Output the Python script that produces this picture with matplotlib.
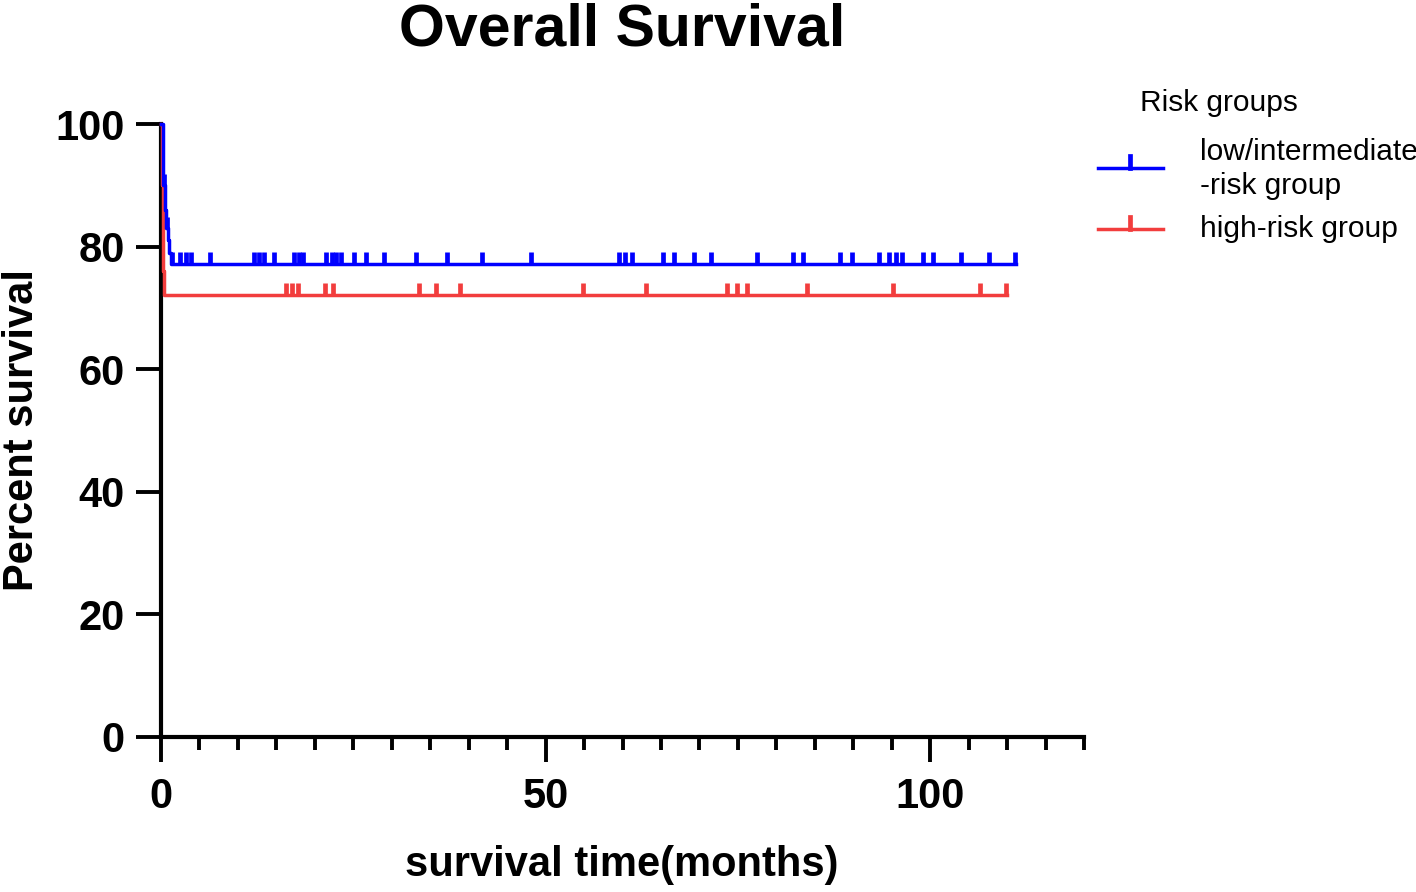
import numpy as np
import matplotlib
matplotlib.use("Agg")
import matplotlib.pyplot as plt
from matplotlib.lines import Line2D
from matplotlib.ticker import FixedLocator

plt.rcParams['font.family'] = ['Liberation Sans', 'DejaVu Sans']

# ---- data ----
group_names = ["low/intermediate\n-risk group", "high-risk group"]
group_colors = ["#0000FF", "#F23D3D"]

blue_step_times = [0, 0.3, 0.5, 0.7, 0.9, 1.1, 1.3]
blue_step_surv = [100, 90, 86, 83, 81, 79, 77.2]
blue_end = 111.2
blue_censor = [0.45, 0.8, 1.4, 2.5, 3.3, 3.9, 6.4, 12.1, 12.8, 13.4, 14.7, 17.3, 17.9, 18.5,
               21.5, 22.2, 22.8, 23.4, 25.1, 26.7, 29.0, 33.2, 37.2, 41.7, 48.1,
               59.5, 60.3, 61.2, 65.3, 66.7, 69.3, 71.5, 77.5, 82.2, 83.5, 88.3, 89.8,
               93.3, 94.6, 95.5, 96.3, 99.1, 100.4, 104.0, 107.6, 111.0]

red_step_times = [0, 0.1, 0.2, 0.3, 0.4]
red_step_surv = [100, 90, 82, 76, 72.1]
red_end = 110.0
red_censor = [16.2, 17.0, 17.8, 21.3, 22.4, 33.6, 35.8, 38.9, 54.8, 63.0, 73.6, 74.9,
              76.2, 84.0, 95.2, 106.5, 109.8]

x_major = [0, 50, 100]
y_major = [0, 20, 40, 60, 80, 100]

groups = [
    (blue_step_times, blue_step_surv, blue_end, blue_censor),
    (red_step_times, red_step_surv, red_end, red_censor),
]

W, H = 1416, 892
fig = plt.figure(figsize=(W / 100, H / 100), dpi=100)

def fx(px):
    return px / W

def fy(py):
    return 1 - py / H

ax = fig.add_axes([fx(161), fy(737), fx(1084) - fx(161), fy(124) - fy(737)])

tick_h = 1.9
zorders = [5, 4]
for (t, s, end, cens), col, z in zip(groups, group_colors, zorders):
    tt = list(t) + [end]
    ss = list(s) + [s[-1]]
    ax.step(tt, ss, where='post', color=col, lw=2.5, zorder=z, clip_on=False)
    cy = np.array([s[np.searchsorted(t, c, side='right') - 1] for c in cens])
    ax.vlines(cens, cy, cy + tick_h, color=col, lw=3.4, zorder=z, clip_on=False)

ax.set_xlim(0, 120)
ax.set_ylim(0, 100)
ax.spines['top'].set_visible(False)
ax.spines['right'].set_visible(False)
for sp in ['left', 'bottom']:
    ax.spines[sp].set_linewidth(3)
ax.xaxis.set_major_locator(FixedLocator(x_major))
ax.xaxis.set_minor_locator(FixedLocator([v for v in range(5, 121, 5) if v not in x_major]))
ax.yaxis.set_major_locator(FixedLocator(y_major))
ax.tick_params(axis='both', which='major', length=18, width=2.8, labelsize=30, pad=8)
ax.tick_params(axis='x', which='major', pad=11)
ax.tick_params(axis='x', which='minor', length=9.5, width=2.8)
for lab in ax.get_xticklabels() + ax.get_yticklabels():
    lab.set_fontweight('bold')

fig.text(fx(622), fy(45), "Overall Survival", ha='center', va='baseline',
         fontsize=42.5, fontweight='bold')
fig.text(fx(622), fy(865), "survival time(months)", ha='center', va='center',
         fontsize=30, fontweight='bold')
fig.text(fx(22), fy(430), "Percent survival", ha='center', va='center',
         fontsize=30, fontweight='bold', rotation=90)

# legend (manual)
fig.text(fx(1140), fy(103), "Risk groups", ha='left', va='center', fontsize=21.5)
leg_y = [168, 229]
text_y = [169, 229]
for col, ly, ty, name in zip(group_colors, leg_y, text_y, group_names):
    fig.add_artist(Line2D([fx(1098), fx(1163)], [fy(ly), fy(ly)], color=col, lw=2.5,
                          transform=fig.transFigure))
    fig.add_artist(Line2D([fx(1130), fx(1130)], [fy(ly), fy(ly - 12)], color=col, lw=3.4,
                          transform=fig.transFigure))
    fig.text(fx(1200), fy(ty), name, ha='left', va='center', fontsize=21.5,
             linespacing=1.25)

fig.savefig("out.png", dpi=100)
